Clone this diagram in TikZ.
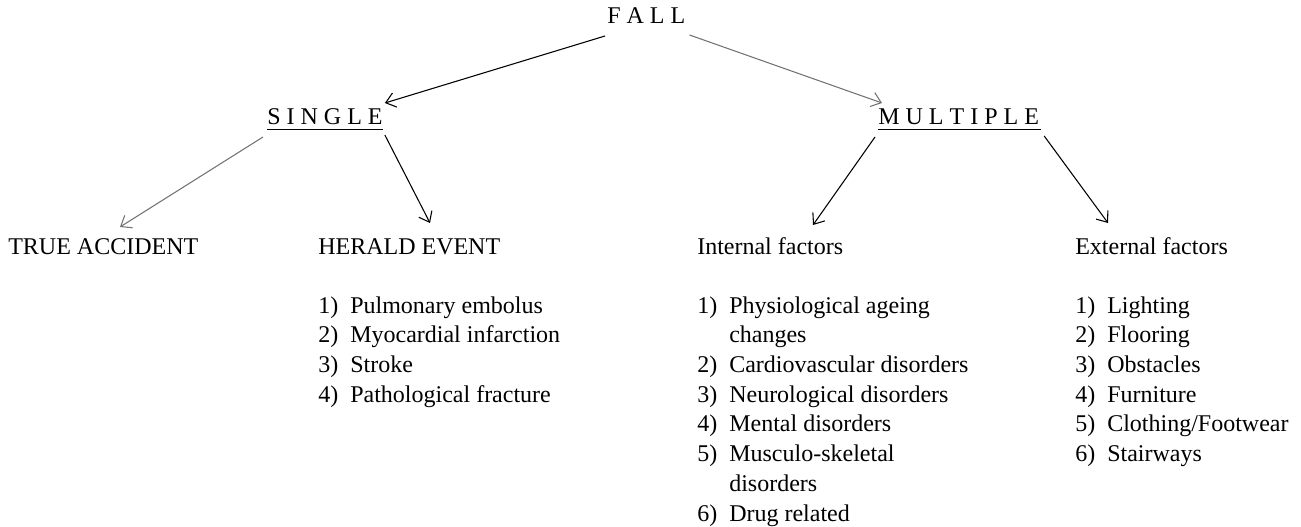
\documentclass[tikz,border=0pt]{standalone}
\usepackage{fontspec}
\setmainfont{Liberation Serif}
\usetikzlibrary{arrows.meta}
\newcommand\gp{\kern4.5pt}
\newcommand\itm[1]{\makebox[24pt][l]{#1}}
\begin{document}
\begin{tikzpicture}[x=0.75pt,y=-0.75pt,
  every node/.style={inner sep=0pt, font=\fontsize{18}{22.3}\selectfont},
  lbl/.style={anchor=base west},
  arr/.style={line width=0.8pt, -{Straight Barb[length=7pt,width=11pt]}},
  arrg/.style={arr, draw=black!55},
  uline/.style={line width=0.7pt}]
\path[use as bounding box] (0,0) rectangle (1301,527);

% top level
\node[lbl] (fall) at (607,24) {F\gp A\gp L\gp L};
\node[lbl] (single) at (267,125) {S\gp I\gp N\gp G\gp L\gp E};
\node[lbl] (multiple) at (878,125) {M\gp U\gp L\gp T\gp I\gp P\gp L\gp E};
\draw[uline] ([shift={(0,4)}]single.base west) -- ([shift={(0,4)}]single.base east);
\draw[uline] ([shift={(0,4)}]multiple.base west) -- ([shift={(2,4)}]multiple.base east);

% second level headings
\node[lbl] (true) at (8,254) {TRUE ACCIDENT};
\node[lbl] (herald) at (318,254) {HERALD EVENT};
\node[lbl] (internal) at (697,254) {Internal factors};
\node[lbl] (external) at (1075,254) {External factors};

% lists
\node[lbl] (hlist) at (318,313) {\begin{tabular}[t]{@{}l@{}}
\itm{1)}Pulmonary embolus\\
\itm{2)}Myocardial infarction\\
\itm{3)}Stroke\\
\itm{4)}Pathological fracture
\end{tabular}};
\node[lbl] (ilist) at (697,313) {\begin{tabular}[t]{@{}l@{}}
\itm{1)}Physiological ageing\\
\itm{}changes\\
\itm{2)}Cardiovascular disorders\\
\itm{3)}Neurological disorders\\
\itm{4)}Mental disorders\\
\itm{5)}Musculo-skeletal\\
\itm{}disorders\\
\itm{6)}Drug related
\end{tabular}};
\node[lbl] (elist) at (1075,313) {\begin{tabular}[t]{@{}l@{}}
\itm{1)}Lighting\\
\itm{2)}Flooring\\
\itm{3)}Obstacles\\
\itm{4)}Furniture\\
\itm{5)}Clothing/Footwear\\
\itm{6)}Stairways
\end{tabular}};

% connectors
\draw[arr]  ([shift={(-2,12)}]fall.base west) -- ([shift={(2,-22)}]single.base east);
\draw[arrg] ([shift={(4,11)}]fall.base east) -- ([shift={(4,-22)}]multiple.base west);
\draw[arrg] ([shift={(-4,12)}]single.base west) -- ([shift={(112,-27)}]true.base west);
\draw[arr]  ([shift={(2,10)}]single.base east) -- ([shift={(112,-31)}]herald.base west);
\draw[arr]  ([shift={(-3,12)}]multiple.base west) -- ([shift={(116,-29)}]internal.base west);
\draw[arr]  ([shift={(5,11)}]multiple.base east) -- ([shift={(33,-31)}]external.base west);
\end{tikzpicture}
\end{document}
